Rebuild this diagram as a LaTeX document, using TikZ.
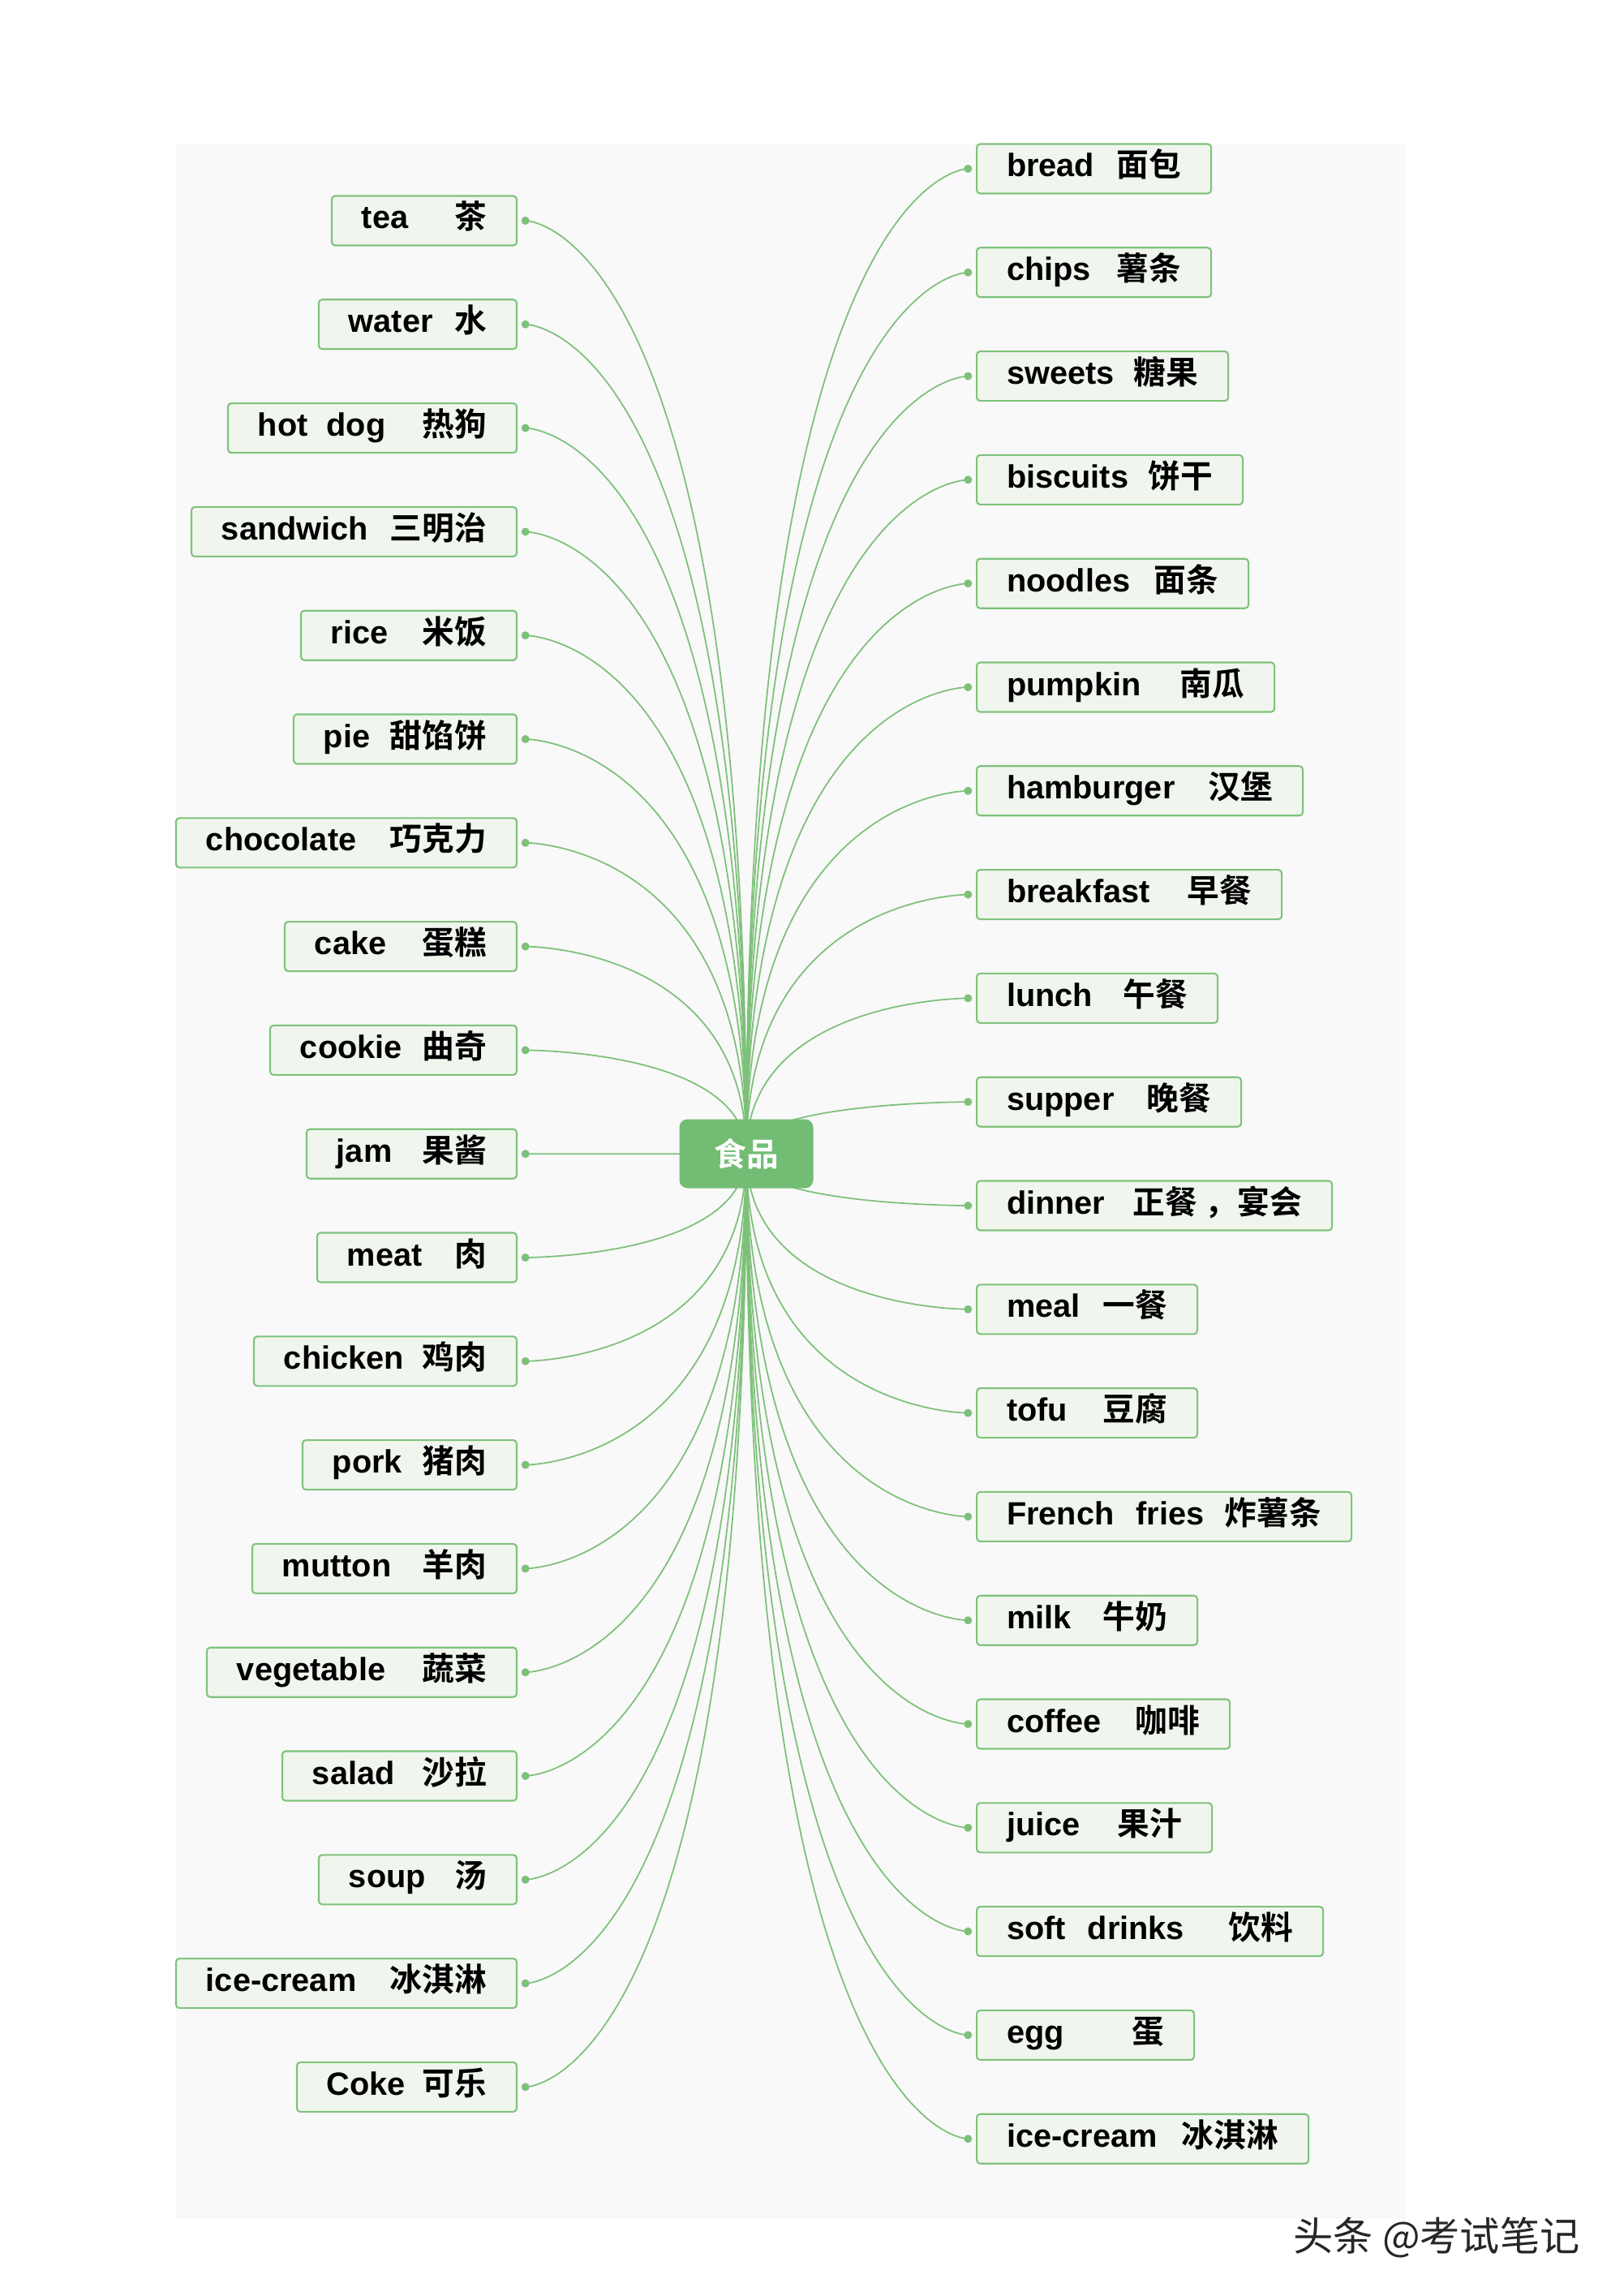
\documentclass[tikz,border=0pt]{standalone}
\usepackage{fontspec}
\usepackage{tikz}
\usetikzlibrary{shapes.misc, positioning}
\setmainfont{Liberation Sans}
\newfontfamily\cjk[BoldFont={Noto Sans CJK SC Bold}]{Noto Sans CJK SC}
\definecolor{leafline}{RGB}{128,194,124}
\definecolor{leaffill}{RGB}{240,246,238}
\definecolor{hubgreen}{RGB}{114,189,115}
\definecolor{linkgreen}{RGB}{126,192,122}
\definecolor{panelgrey}{RGB}{249,249,249}
\def\fs{\fontsize{11.3pt}{13pt}\selectfont}
\tikzstyle{word}=[rectangle, draw=leafline, fill=leaffill, rounded corners=1.2pt, line width=0.6pt,
                  minimum height=0.61cm, inner xsep=0.37cm, inner ysep=0pt,
                  text height=0.29cm, text depth=0.09cm, font=\fs\bfseries]
\tikzstyle{hub}=[rectangle, fill=hubgreen, rounded corners=0.1cm, minimum width=1.65cm,
                 minimum height=0.85cm, text=white, font=\fs\bfseries\cjk]
\tikzstyle{dot}=[circle, fill=linkgreen, inner sep=0pt, minimum size=0.1cm]
\tikzstyle{link}=[draw=linkgreen, line width=0.5pt]

\begin{document}
\begin{tikzpicture}

  \useasboundingbox (0,0) rectangle (20.01,-28.30);
  \fill[panelgrey] (2.17,-1.78) rectangle (17.33,-27.35);

  \coordinate (hubc) at (9.20,-14.22);

  % left column
  \foreach \en/\zh/\w [count=\i, evaluate=\w as \tw using \w-0.74] in {
      tea/茶/2.28, water/水/2.44, hot\hspace{0.3em} dog/热狗/3.56, sandwich/三明治/4.01,
      rice/米饭/2.66, pie/甜馅饼/2.75, chocolate/巧克力/4.20, cake/蛋糕/2.86,
      cookie/曲奇/3.04, jam/果酱/2.59, meat/肉/2.46, chicken/鸡肉/3.24,
      pork/猪肉/2.64, mutton/羊肉/3.26, vegetable/蔬菜/3.82, salad/沙拉/2.89,
      soup/汤/2.44, ice-cream/冰淇淋/4.20, Coke/可乐/2.71}{
    \node[word, anchor=east] (l\i) at (6.38,{-2.72-1.278*(\i-1)})
        {\makebox[\tw cm]{\en\hfill{\cjk\zh}}};
    \node[dot, right=0.04cm of l\i] (ld\i) {};
  }

  % right column
  \foreach \en/\zh/\w [count=\j, evaluate=\w as \tw using \w-0.74] in {
      bread/面包/2.89, chips/薯条/2.89, sweets/糖果/3.10, biscuits/饼干/3.28,
      noodles/面条/3.35, pumpkin/南瓜/3.67, hamburger/汉堡/4.02, breakfast/早餐/3.76,
      lunch/午餐/2.97, supper/晚餐/3.26, dinner/正餐\hspace{0.25em}，宴会/4.38, meal/一餐/2.72,
      tofu/豆腐/2.72, French\hspace{0.4em} fries/炸薯条/4.62, milk/牛奶/2.72, coffee/咖啡/3.12,
      juice/果汁/2.90, soft\hspace{0.4em} drinks/饮料/4.27, egg/蛋/2.68, ice-cream/冰淇淋/4.09}{
    \node[word, anchor=west] (r\j) at (12.03,{-2.08-1.278*(\j-1)})
        {\makebox[\tw cm]{\en\hfill{\cjk\zh}}};
    \node[dot, left=0.04cm of r\j] (rd\j) {};
  }

  \foreach \i in {1,...,19}{
    \draw[link] (hubc) .. controls (hubc |- ld\i) and (ld\i) .. (ld\i);
  }
  \foreach \j in {1,...,20}{
    \draw[link] (hubc) .. controls (hubc |- rd\j) and (rd\j) .. (rd\j);
  }

  \node[hub] (hub) at (hubc) {食品};

  \node[font=\cjk\fontsize{14pt}{16pt}\selectfont, text=black!85] (mark) at (17.71,-27.58) {头条 @考试笔记};

\end{tikzpicture}
\end{document}
